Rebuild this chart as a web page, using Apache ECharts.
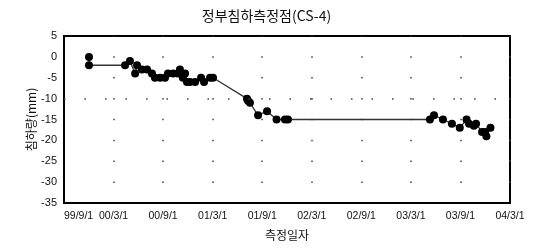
<!DOCTYPE html>
<html>
<head>
<meta charset="utf-8">
<script src="https://cdn.jsdelivr.net/npm/echarts@6/dist/echarts.min.js"></script>
<style>
  html, body { margin: 0; padding: 0; background: #fff; }
  #chart { width: 533px; height: 251px; }
</style>
</head>
<body>
<div id="chart"></div>
<script type="text/javascript">
// 측정일자 / 침하량(mm)
var dates = [
  '1999-12-02', '1999-12-02', '2000-04-13', '2000-05-01', '2000-05-20', '2000-05-27',
  '2000-06-14', '2000-07-03', '2000-07-21', '2000-08-01', '2000-08-20', '2000-09-07',
  '2000-09-18', '2000-10-07', '2000-10-25', '2000-11-01', '2000-11-12', '2000-11-20',
  '2000-11-27', '2000-12-08', '2000-12-27', '2001-01-18', '2001-01-29', '2001-02-20',
  '2001-03-03', '2001-07-06', '2001-07-10', '2001-07-17', '2001-08-16', '2001-09-18',
  '2001-10-23', '2001-11-23', '2001-12-04', '2003-05-11', '2003-05-26', '2003-06-28',
  '2003-07-31', '2003-08-29', '2003-09-23', '2003-10-02', '2003-10-20', '2003-10-28',
  '2003-11-19', '2003-11-30', '2003-12-05', '2003-12-20'
];
var settle = [
  0, -2, -2, -1, -4, -2,
  -3, -3, -4, -5, -5, -5,
  -4, -4, -4, -3, -5, -4,
  -6, -6, -6, -5, -6, -5,
  -5, -10, -10.5, -11, -14, -13,
  -15, -15, -15, -15, -14, -15,
  -16, -17, -15, -16, -16.5, -16,
  -18, -18, -19, -17
];

// x축 눈금
var tickDates = ['1999-09-01', '2000-03-01', '2000-09-01', '2001-03-01', '2001-09-01',
                 '2002-03-01', '2002-09-01', '2003-03-01', '2003-09-01', '2004-03-01'];
var tickLabels = ['99/9/1', '00/3/1', '00/9/1', '01/3/1', '01/9/1',
                  '02/3/1', '02/9/1', '03/3/1', '03/9/1', '04/3/1'];

var yMin = -35, yMax = 5, yStep = 5;

/* 날짜 -> 99/9/1 부터 경과일 */
function dayNum(s) {
  return (Date.parse(s) - Date.parse(tickDates[0])) / 86400000;
}

var xMax = dayNum(tickDates[tickDates.length - 1]);

var sdata = [];
for (var i = 0; i < dates.length; i++) {
  sdata.push([dayNum(dates[i]), settle[i]]);
}

function tickLabel(v) {
  var best = 0, bd = Infinity;
  for (var k = 0; k < tickDates.length; k++) {
    var d = Math.abs(dayNum(tickDates[k]) - v);
    if (d < bd) { bd = d; best = k; }
  }
  return tickLabels[best];
}

var fontLat = 'Liberation Sans, Arial, sans-serif';
var fontKr = 'Noto Sans CJK KR, sans-serif';

var chart = echarts.init(document.getElementById('chart'));
var option = {
  animation: false,
  backgroundColor: '#fff',
  title: {
    text: '정부침하측정점(CS-4)',
    left: 'center',
    top: 4,
    textStyle: { fontFamily: fontKr, fontSize: 14, fontWeight: 'normal', color: '#111' }
  },
  grid: {
    left: 64, right: 23, top: 36, bottom: 48,
    show: true,
    borderColor: '#000',
    borderWidth: 2,
    containLabel: false
  },
  xAxis: {
    type: 'value',
    min: 0,
    max: xMax,
    interval: xMax / 9,
    name: '측정일자',
    nameLocation: 'middle',
    nameGap: 26,
    nameMoveOverlap: false,
    nameTextStyle: { fontFamily: fontKr, fontSize: 12, color: '#111' },
    axisLine: { show: true, onZero: false, lineStyle: { color: '#000', width: 2 } },
    axisTick: { show: false },
    axisLabel: {
      margin: 8,
      fontFamily: fontLat,
      fontSize: 10.5,
      color: '#111',
      alignMinLabel: 'left',
      formatter: function (v) { return tickLabel(v); }
    },
    splitLine: {
      show: true,
      lineStyle: { color: '#444', width: 1.5, type: [1.5, 19.375], dashOffset: 0.75 }
    }
  },
  yAxis: {
    type: 'value',
    min: yMin,
    max: yMax,
    interval: yStep,
    name: '침하량(mm)',
    nameLocation: 'middle',
    nameGap: 27,
    nameMoveOverlap: false,
    nameTextStyle: { fontFamily: fontKr, fontSize: 12, color: '#111' },
    axisLine: { show: true, onZero: false, lineStyle: { color: '#000', width: 2 } },
    axisTick: { show: false },
    axisLabel: { margin: 7, fontFamily: fontLat, fontSize: 11, color: '#111' },
    splitLine: { show: false }
  },
  series: [{
    type: 'line',
    data: sdata,
    symbol: 'circle',
    symbolSize: 8,
    itemStyle: { color: '#000' },
    lineStyle: { color: '#333', width: 1.3 },
    markLine: {
      silent: true,
      symbol: 'none',
      label: { show: false },
      lineStyle: { color: '#444', width: 1.5, type: [1.5, 19], dashOffset: 0 },
      data: [{ yAxis: -10 }]
    }
  }]
};
chart.setOption(option);
</script>
</body>
</html>
